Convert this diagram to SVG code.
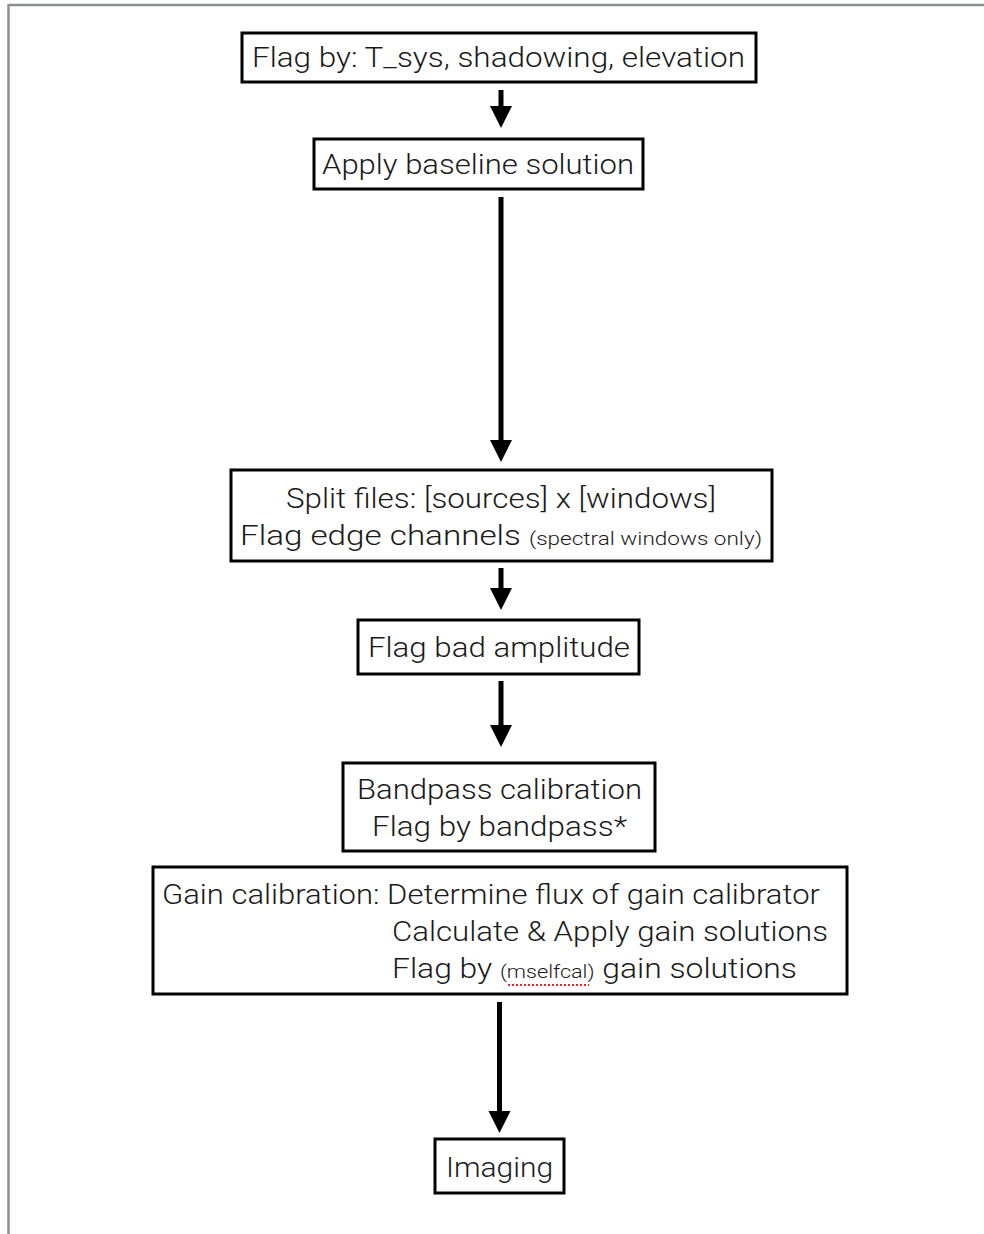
<svg xmlns="http://www.w3.org/2000/svg" width="984" height="1234" viewBox="0 0 984 1234">
<defs>
<style>
.box{fill:#fff;stroke:#000;stroke-width:3}
.t{font-family:Roboto,"Open Sans","Liberation Sans",Arial,sans-serif;font-weight:300;font-size:28px;fill:#1a1a1a}
.s{font-size:19px}
.c{stroke:#000;stroke-width:5;fill:none}
.frame{stroke:#8e9194;stroke-width:2.5;fill:none}
</style>
</defs>
<rect width="984" height="1234" fill="#fff"/>
<path class="frame" d="M8.5,1234 V5 H984"/>
<g id="connectors">
<line class="c" x1="501" y1="90" x2="501" y2="110"/>
<path d="M490,106 L512,106 L501,128 Z"/>
<line class="c" x1="501" y1="197" x2="501" y2="444"/>
<path d="M490,440 L512,440 L501,462 Z"/>
<line class="c" x1="501" y1="568" x2="501" y2="592"/>
<path d="M490,588 L512,588 L501,610 Z"/>
<line class="c" x1="501" y1="681" x2="501" y2="729"/>
<path d="M490,725 L512,725 L501,747 Z"/>
<line class="c" x1="499.5" y1="1002" x2="499.5" y2="1115"/>
<path d="M488.5,1111 L510.5,1111 L499.5,1133 Z"/>
</g>
<g id="n1">
<rect class="box" x="242" y="33" width="514" height="49"/>
<text class="t" x="252" y="67" textLength="493" lengthAdjust="spacingAndGlyphs">Flag by: T_sys, shadowing, elevation</text>
</g>
<g id="n2">
<rect class="box" x="314" y="139" width="329" height="50"/>
<text class="t" x="322" y="174" textLength="312" lengthAdjust="spacingAndGlyphs">Apply baseline solution</text>
</g>
<g id="n3">
<rect class="box" x="231" y="470" width="541" height="91"/>
<text class="t" x="286" y="508" textLength="430" lengthAdjust="spacingAndGlyphs">Split files: [sources] x [windows]</text>
<text class="t" x="240" y="545" textLength="522" lengthAdjust="spacingAndGlyphs">Flag edge channels <tspan class="s">(spectral windows only)</tspan></text>
</g>
<g id="n4">
<rect class="box" x="358" y="620" width="281" height="54"/>
<text class="t" x="368" y="657" textLength="262" lengthAdjust="spacingAndGlyphs">Flag bad amplitude</text>
</g>
<g id="n5">
<rect class="box" x="343" y="763" width="312" height="88"/>
<text class="t" x="357" y="799" textLength="285" lengthAdjust="spacingAndGlyphs">Bandpass calibration</text>
<text class="t" x="372" y="836" textLength="255" lengthAdjust="spacingAndGlyphs">Flag by bandpass*</text>
</g>
<g id="n6">
<rect class="box" x="153" y="867" width="694" height="127"/>
<text class="t" x="162" y="904" textLength="658" lengthAdjust="spacingAndGlyphs">Gain calibration: Determine flux of gain calibrator</text>
<text class="t" x="392" y="941" textLength="436" lengthAdjust="spacingAndGlyphs">Calculate &amp; Apply gain solutions</text>
<text class="t" x="392" y="978" textLength="405" lengthAdjust="spacingAndGlyphs">Flag by <tspan class="s">(mselfcal)</tspan> gain solutions</text>
<line x1="508" y1="985" x2="589" y2="985" stroke="#e0262b" stroke-width="2" stroke-dasharray="2,2"/>
</g>
<g id="n7">
<rect class="box" x="435" y="1139" width="129" height="54"/>
<text class="t" x="446" y="1177" textLength="107" lengthAdjust="spacingAndGlyphs">Imaging</text>
</g>
</svg>
